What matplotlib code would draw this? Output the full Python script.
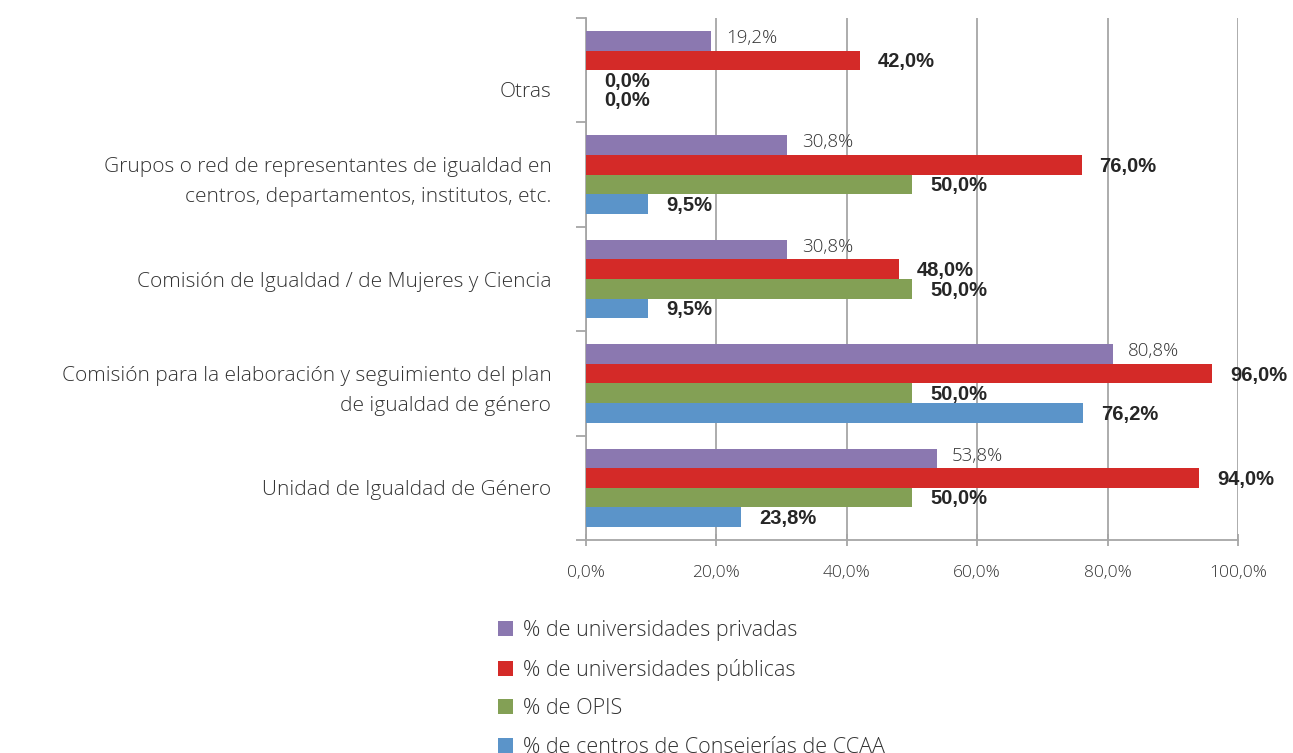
import numpy as np
import matplotlib.pyplot as plt
from matplotlib.patches import Patch

# categories, bottom to top
categorias = [
    "Unidad de Igualdad de Género",
    "Comisión para la elaboración y seguimiento del plan\nde igualdad de género",
    "Comisión de Igualdad / de Mujeres y Ciencia",
    "Grupos o red de representantes de igualdad en\ncentros, departamentos, institutos, etc.",
    "\nOtras",
]
privadas = [53.8, 80.8, 30.8, 30.8, 19.2]
publicas = [94.0, 96.0, 48.0, 76.0, 42.0]
opis = [50.0, 50.0, 50.0, 50.0, 0.0]
consejerias = [23.8, 76.2, 9.5, 9.5, 0.0]

series = [
    ("% de universidades privadas", privadas, "#8b78b0", False),
    ("% de universidades públicas", publicas, "#d42a28", True),
    ("% de OPIS", opis, "#83a055", True),
    ("% de centros de Consejerías de CCAA", consejerias, "#5b94c9", True),
]

plt.rcParams['font.family'] = ['Open Sans', 'DejaVu Sans']
plt.rcParams['font.weight'] = 'light'

fig = plt.figure(figsize=(12.93, 7.53), dpi=100)
ax = fig.add_axes([586 / 1293, 1 - 540 / 753, (1238 - 586) / 1293, (540 - 18) / 753])

y = np.arange(len(categorias))
h = 0.1875
offsets = [1.5 * h, 0.5 * h, -0.5 * h, -1.5 * h]

for (nombre, vals, color, bold), off in zip(series, offsets):
    ax.barh(y + off, vals, height=h, color=color, label=nombre, zorder=3)
    for yi, v in zip(y, vals):
        txt = f"{v:.1f}%".replace(".", ",")
        if bold:
            ax.annotate(txt, (v, yi + off), xytext=(13, -1), textcoords="offset points",
                        ha="left", va="center", fontsize=14.5, fontweight="bold",
                        family="Liberation Sans", color="#262626")
        else:
            ax.annotate(txt, (v, yi + off), xytext=(11, 2), textcoords="offset points",
                        ha="left", va="center", fontsize=13.5, color="#333333")

ax.set_xlim(0, 100)
ax.set_ylim(-0.5, len(categorias) - 0.5)
ax.set_xticks(np.arange(0, 101, 20))
ax.set_xticklabels([f"{t:.1f}%".replace(".", ",") for t in np.arange(0, 101, 20)])
ax.set_yticks(y)
ax.set_yticklabels(categorias, ha="right", multialignment="right", linespacing=1.65)
ax.set_yticks(np.arange(-0.5, len(categorias), 1), minor=True)

ax.grid(axis="x", color="#a6a6a6", linewidth=1.3, zorder=0)
for s in ["top", "right"]:
    ax.spines[s].set_visible(False)
for s in ["left", "bottom"]:
    ax.spines[s].set_color("#a6a6a6")
    ax.spines[s].set_linewidth(1.3)

ax.tick_params(axis="x", direction="inout", length=8, width=1.3, color="#a6a6a6",
               labelsize=12.5, labelcolor="#333333", pad=14)
ax.tick_params(axis="y", which="major", length=0, labelsize=15, labelcolor="#333333", pad=25)
ax.tick_params(axis="y", which="minor", direction="out", length=7, width=1.3, color="#a6a6a6")

handles = [Patch(facecolor=c, label=n) for n, _, c, _ in series]
fig.legend(handles=handles, loc="upper left", bbox_to_anchor=(479 / 1293, 1 - 601 / 753),
           frameon=False, fontsize=15.5, handlelength=0.7, handleheight=0.7,
           handletextpad=0.45, labelspacing=0.8, labelcolor="#333333")

fig.savefig("out.png", dpi=100)
